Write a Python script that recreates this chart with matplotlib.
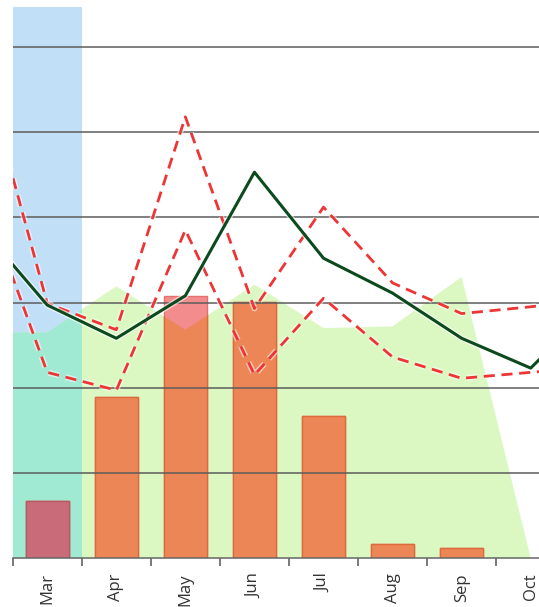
import matplotlib
matplotlib.use("Agg")
import matplotlib.pyplot as plt
import matplotlib.patheffects as pe
import numpy as np

# ---- data ----
months = ['Feb', 'Mar', 'Apr', 'May', 'Jun', 'Jul', 'Aug', 'Sep', 'Oct', 'Nov']
main_line = [39.2, 29.7, 25.8, 30.8, 45.3, 35.2, 31.1, 25.8, 22.3, 30.4]
upper_band = [59.6, 29.9, 26.8, 51.8, 29.3, 41.2, 32.3, 28.7, 29.5, 30.5]
lower_band = [44.1, 21.8, 19.7, 38.5, 21.5, 30.5, 23.6, 21.1, 21.8, 22.5]
area_vals = [26.5, 26.5, 31.9, 26.8, 32.1, 27.0, 27.2, 33.0, 0.0, 0.0]
bar_months = ['Mar', 'Apr', 'May', 'Jun', 'Jul', 'Aug', 'Sep']
bar_vals = [6.7, 18.9, 30.8, 30.1, 16.7, 1.7, 1.2]
highlight_month = 'Mar'
label_months = ['Mar', 'Apr', 'May', 'Jun', 'Jul', 'Aug', 'Sep', 'Oct']
grid_vals = [10, 20, 30, 40, 50, 60]

# positions: Mar = 0
pos = {m: i - 1 for i, m in enumerate(months)}
x_all = np.array([pos[m] for m in months], dtype=float)
x_bar = np.array([pos[m] for m in bar_months], dtype=float)

W, H = 539, 607
fig = plt.figure(figsize=(W / 100, H / 100), dpi=100)
left_px, right_px, top_px, bot_px = 12.7, 539, 7, 558
ax = fig.add_axes([left_px / W, (H - bot_px) / H,
                   (right_px - left_px) / W, (bot_px - top_px) / H])

# blue highlight band
hx = pos[highlight_month]
span = ax.axvspan(hx - 0.5, hx + 0.5, color='#c2dff8', zorder=0, lw=0)

# green area
area = ax.fill_between(x_all, 0, area_vals, color='#dbf8c2', lw=0, zorder=1)
area_path = area.get_paths()[0]

# teal where area overlaps blue band
teal = ax.fill_between(x_all, 0, area_vals, color='#a0ead3', lw=0, zorder=1.5)
teal.set_clip_path(span.get_path(), span.get_transform())

# bars: pink over white, orange over green, mauve over teal
bw = 0.62
pink = ax.bar(x_bar, bar_vals, width=bw, color='#f38c8c', edgecolor='#e57070',
              linewidth=1, zorder=2)
orange = ax.bar(x_bar, bar_vals, width=bw, color='#ec8656', edgecolor='#dc6a3a',
                linewidth=1, zorder=2.1)
for p in orange:
    p.set_clip_path(area_path, ax.transData)
mauve = ax.bar(x_bar, bar_vals, width=bw, color='#c96b78', edgecolor='#b95868',
               linewidth=1, zorder=2.2)
for p in mauve:
    p.set_clip_path(span.get_path(), span.get_transform())

# gridlines
for g in grid_vals:
    ax.axhline(g, color='#5c5c5c', lw=1.1, zorder=3)

# lines
halo = [pe.withStroke(linewidth=4.2, foreground='white', alpha=0.55)]
ax.plot(x_all, upper_band, color='#ee3535', lw=2.0, dashes=(4.0, 2.4),
        zorder=4, path_effects=halo)
ax.plot(x_all, lower_band, color='#ee3535', lw=2.0, dashes=(4.0, 2.4),
        zorder=4, path_effects=halo)
ax.plot(x_all, main_line, color='#0c4a1e', lw=2.2, zorder=5,
        path_effects=[pe.withStroke(linewidth=4.2, foreground='white', alpha=0.6)])

# axes styling
for s in ['left', 'right', 'top']:
    ax.spines[s].set_visible(False)
ax.spines['bottom'].set_color('#666666')
ax.spines['bottom'].set_linewidth(1.1)
ax.spines['bottom'].set_zorder(6)

ax.set_yticks([])
bounds = np.arange(-0.5, 7.0, 1.0)
ax.set_xticks(bounds)
ax.set_xticklabels([])
ax.tick_params(axis='x', which='major', length=6, width=1.1, color='#555555')
ax.set_xticks([pos[m] for m in label_months], minor=True)
ax.set_xticklabels(label_months, minor=True, rotation=90, va='top', ha='center',
                   fontsize=12, color='#333333', family='Open Sans')
ax.tick_params(axis='x', which='minor', length=0, pad=11)

ax.set_xlim(-0.5, 7.12)
ax.set_ylim(0, 64.7)

fig.savefig('out.png', dpi=100)
